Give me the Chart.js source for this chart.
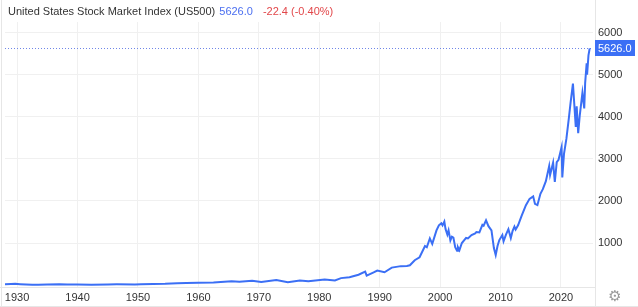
<!DOCTYPE html>
<html>
<head>
<meta charset="utf-8">
<script src="https://cdn.jsdelivr.net/npm/chart.js@4/dist/chart.umd.min.js"></script>
<style>
html,body{margin:0;padding:0;background:#fff;}
#wrap{position:relative;width:638px;height:307px;}
canvas{display:block;}
</style>
</head>
<body>
<div id="wrap"><canvas id="c" width="638" height="307"></canvas></div>
<script>
const titleText = "United States Stock Market Index (US500)";
const lastText = "5626.0";
const changeText = "-22.4 (-0.40%)";
const lastValue = 5626.0;

const xTickLabels = [1930, 1940, 1950, 1960, 1970, 1980, 1990, 2000, 2010, 2020];
const yTickLabels = [1000, 2000, 3000, 4000, 5000, 6000];

const years = [
  1928.0, 1929.0, 1929.7, 1930.5, 1931.5, 1932.5, 1933.5, 1935.0, 1937.0, 1938.3, 1940.0, 1942.3,
  1945.0, 1946.5, 1949.5, 1950.5, 1952.5, 1954.5, 1956.5, 1958.0, 1960.0, 1962.5, 1965.5, 1966.8,
  1968.9, 1970.4, 1972.9, 1974.8, 1976.8, 1978.2, 1980.9, 1982.6, 1983.6, 1985.0, 1986.5, 1987.6,
  1987.85, 1989.0, 1989.6, 1990.8, 1992.0, 1993.5, 1994.5, 1995.0, 1995.8, 1996.6, 1997.5, 1997.8,
  1998.3, 1998.7, 1999.4, 1999.8, 2000.2, 2000.4, 2000.7, 2000.9, 2001.2, 2001.4, 2001.7, 2001.95,
  2002.2, 2002.5, 2002.8, 2002.95, 2003.2, 2003.6, 2004.3, 2004.6, 2005.2, 2005.8, 2006.0, 2006.5,
  2007.0, 2007.2, 2007.6, 2008.0, 2008.5, 2008.9, 2009.2, 2009.5, 2009.8, 2010.3, 2010.5, 2010.9,
  2011.3, 2011.7, 2012.0, 2012.3, 2012.5, 2012.9, 2013.5, 2014.2, 2014.8, 2015.4, 2015.7, 2016.1,
  2016.6, 2017.0, 2017.5, 2018.05, 2018.2, 2018.7, 2018.98, 2019.3, 2019.6, 2020.1, 2020.22, 2020.5,
  2020.9, 2021.3, 2021.6, 2021.98, 2022.45, 2022.6, 2022.85, 2023.1, 2023.55, 2023.85, 2024.0, 2024.25,
  2024.32, 2024.55, 2024.75
];
const values = [
  20, 26, 30, 22, 14, 7, 10, 12, 17, 11, 11, 9,
  15, 17, 16, 19, 25, 30, 46, 48, 57, 60, 88, 80,
  105, 75, 118, 70, 106, 92, 130, 110, 165, 185, 245, 320,
  225, 300, 345, 305, 415, 450, 455, 470, 590, 660, 930, 900,
  1110, 980, 1300, 1420, 1470, 1420, 1510, 1330, 1200, 1300, 1060, 1150,
  1130, 900, 815, 900, 830, 1000, 1120, 1110, 1190, 1230, 1260, 1250,
  1430, 1410, 1540, 1400, 1300, 880, 715, 930, 1070, 1190, 1040, 1200,
  1330, 1120, 1290, 1390, 1320, 1420, 1650, 1900, 2050, 2110, 1930, 1900,
  2170, 2280, 2470, 2830, 2620, 2910, 2450, 2920, 2980, 3280, 2560, 3120,
  3480, 3960, 4350, 4790, 3760, 4250, 3610, 4020, 4570, 4200, 4800, 5270,
  5000, 5460, 5626
];

const lineColor = '#3b6ff5';

const overlay = {
  id: 'overlay',
  beforeDatasetsDraw(chart) {
    const {ctx, chartArea, scales} = chart;
    const y = Math.round(scales.y.getPixelForValue(lastValue)) + 0.5;
    ctx.save();
    ctx.strokeStyle = '#6f86e8';
    ctx.lineWidth = 1;
    ctx.setLineDash([1, 2]);
    ctx.beginPath();
    ctx.moveTo(chartArea.left, y);
    ctx.lineTo(chartArea.right, y);
    ctx.stroke();
    ctx.restore();
  },
  afterDraw(chart) {
    const {ctx, chartArea, scales} = chart;
    ctx.save();
    ctx.strokeStyle = '#e6e6e6';
    ctx.lineWidth = 1;
    ctx.beginPath();
    ctx.moveTo(chartArea.right + 2.5, 0);
    ctx.lineTo(chartArea.right + 2.5, 307);
    ctx.moveTo(0, chartArea.bottom + 0.5);
    ctx.lineTo(chartArea.right + 2.5, chartArea.bottom + 0.5);
    ctx.moveTo(1.5, 0);
    ctx.lineTo(1.5, 307);
    ctx.moveTo(0, 306.5);
    ctx.lineTo(638, 306.5);
    ctx.stroke();
    ctx.font = '11px "Liberation Sans", Arial, sans-serif';
    ctx.textBaseline = 'middle';
    ctx.textAlign = 'left';
    let x = 8;
    ctx.fillStyle = '#333333';
    ctx.fillText(titleText, x, 12);
    x += ctx.measureText(titleText).width + 4;
    ctx.fillStyle = '#4b6ff0';
    ctx.fillText(lastText, x, 12);
    x += ctx.measureText(lastText).width + 10;
    ctx.fillStyle = '#e2474a';
    ctx.fillText(changeText, x, 12);
    const y = scales.y.getPixelForValue(lastValue);
    ctx.fillStyle = '#3b6ff5';
    ctx.fillRect(595, Math.round(y) - 8, 40, 16);
    ctx.fillStyle = '#ffffff';
    ctx.textAlign = 'left';
    ctx.fillText(lastText, 598, Math.round(y) + 0.5);
    ctx.fillStyle = '#9a9a9a';
    ctx.font = '15px "DejaVu Sans", sans-serif';
    ctx.textAlign = 'center';
    ctx.fillText('\u2699', 615, 297);
    ctx.restore();
  }
};

const points = years.map((yr, i) => ({x: yr, y: values[i]}));

new Chart(document.getElementById('c'), {
  type: 'line',
  data: {
    datasets: [{
      data: points,
      borderColor: lineColor,
      borderWidth: 2,
      pointRadius: 0,
      tension: 0,
      fill: false
    }]
  },
  options: {
    responsive: false,
    animation: false,
    devicePixelRatio: 1,
    layout: {padding: {top: 22, left: 5, right: 0, bottom: 0}},
    plugins: {legend: {display: false}, tooltip: {enabled: false}},
    scales: {
      x: {
        type: 'linear',
        min: 1928.0,
        max: 2025.3,
        afterBuildTicks(s) { s.ticks = xTickLabels.map(v => ({value: v})); },
        afterFit(s) { s.height = 20; },
        grid: {color: '#f0f0f0', drawTicks: false},
        border: {display: false},
        ticks: {
          padding: 4,
          color: '#333333',
          font: {family: '"Liberation Sans", Arial, sans-serif', size: 11},
          callback: v => String(v),
          maxRotation: 0,
          autoSkip: false
        }
      },
      y: {
        position: 'right',
        min: -46,
        max: 6254,
        afterBuildTicks(s) { s.ticks = yTickLabels.map(v => ({value: v})); },
        afterFit(s) { s.width = 45; },
        grid: {color: '#f0f0f0', drawTicks: false},
        border: {display: false},
        ticks: {
          padding: 5,
          color: '#333333',
          font: {family: '"Liberation Sans", Arial, sans-serif', size: 11},
          callback: v => String(v)
        }
      }
    }
  },
  plugins: [overlay]
});
</script>
</body>
</html>
